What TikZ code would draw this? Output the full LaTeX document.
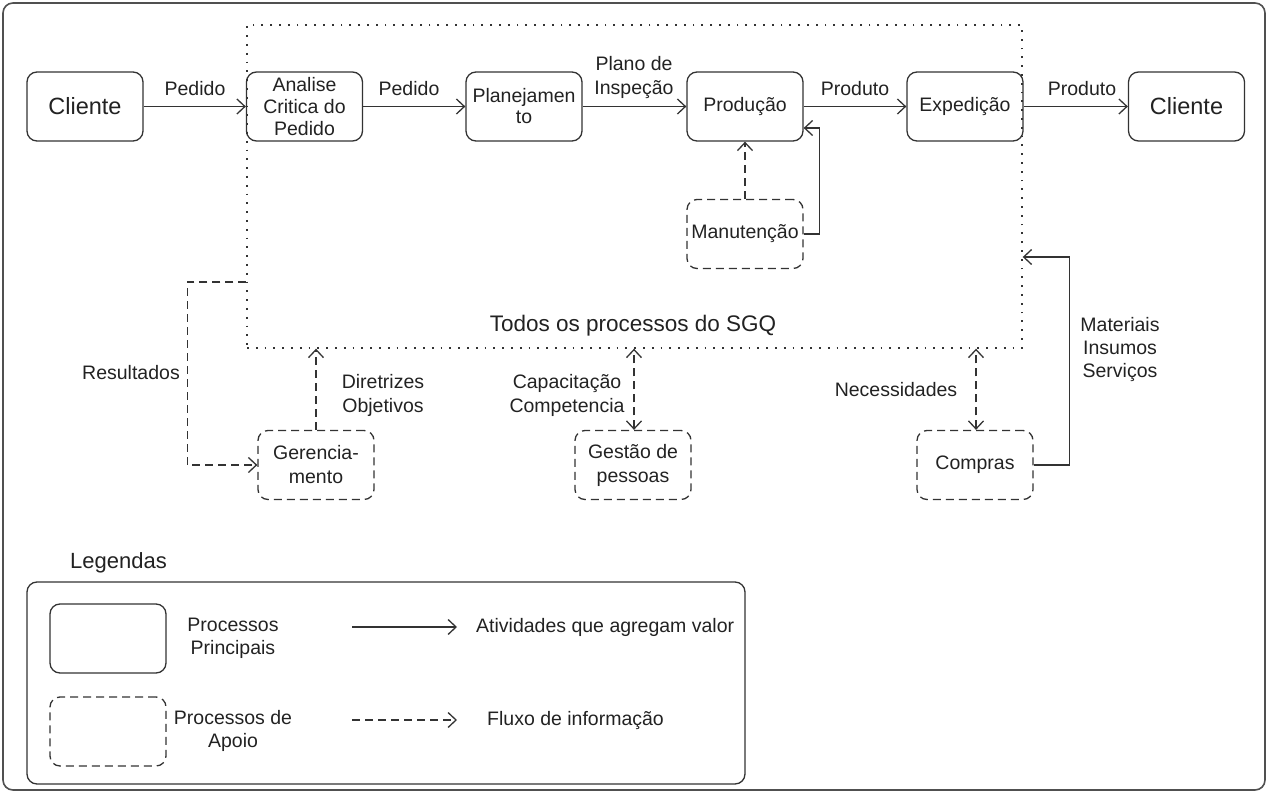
\documentclass[tikz,border=0pt]{standalone}
\usepackage{fontspec}
\setmainfont{Liberation Sans}
\usetikzlibrary{arrows.meta}
\definecolor{ln}{HTML}{333333}
\definecolor{tx}{HTML}{222222}
\definecolor{fr}{HTML}{505050}
\begin{document}
\begin{tikzpicture}[x=1pt,y=-1pt,
  >={Straight Barb[length=8pt,width=15pt]},
  every node/.style={text=tx, font=\fontsize{19.5}{23}\selectfont},
  mainbox/.style={draw=ln, line width=1.3pt, rounded corners=10pt, minimum width=116pt, minimum height=69pt, align=center, inner sep=0pt},
  supbox/.style={mainbox, dash pattern=on 8pt off 5pt},
  flow/.style={draw=ln, line width=1.3pt, ->},
  info/.style={flow, dash pattern=on 8pt off 5pt},
  biinfo/.style={info, <->},
  lbl/.style={align=center, inner sep=0pt},
  big/.style={font=\fontsize{23.5}{27}\selectfont}]
\useasboundingbox (0,0) rectangle (1268,794);
% outer frame
\draw[fr, line width=1.6pt, rounded corners=10pt] (3,3) rectangle (1265,790);
% SGQ dotted area
\node[draw=ln, line width=1.4pt, dash pattern=on 1.8pt off 7pt, minimum width=775pt, minimum height=323pt, inner sep=0pt] (sgq) at (634.5,186.5) {};
\node[big, font=\fontsize{22.5}{27}\selectfont] (todos) at (633,326) {Todos os processos do SGQ};
% main processes
\node[mainbox, big] (c1) at (85,106.5) {Cliente};
\node[mainbox, font=\fontsize{19.5}{22}\selectfont] (an) at (304.5,106.5) {Analise\\Critica do\\Pedido};
\node[mainbox, font=\fontsize{19.5}{21}\selectfont] (pl) at (524,106.5) {Planejamen\\to};
\node[mainbox] (pr) at (745,106.5) {Produção};
\node[mainbox] (ex) at (965,106.5) {Expedição};
\node[mainbox, big] (c2) at (1186.5,106.5) {Cliente};
% support processes
\node[supbox] (man) at (745,234) {Manutenção};
\node[supbox, font=\fontsize{19.5}{24}\selectfont] (ger) at (316,465) {Gerencia-\\mento};
\node[supbox, font=\fontsize{19.5}{24}\selectfont] (ges) at (633,465) {Gestão de\\pessoas};
\node[supbox] (com) at (975,465) {Compras};
% main flow
\draw[flow] (c1) -- (an);
\draw[flow] (an) -- (pl);
\draw[flow] (pl) -- (pr);
\draw[flow] (pr) -- (ex);
\draw[flow] (ex) -- (c2);
\node (lp1) at (195,89) {Pedido};
\node (lp2) at (409,89) {Pedido};
\node[lbl, font=\fontsize{19.5}{24}\selectfont] (lpi) at (634,77.5) {Plano de\\Inspeção};
\node (lpr1) at (855,89) {Produto};
\node (lpr2) at (1082,89) {Produto};
% maintenance
\draw[info] (man) -- (pr);
\draw[flow] (man.east) -- ++(16,0) |- ([yshift=-21.5pt]pr.east);
% results
\draw[info] ([yshift=-95.5pt]sgq.west) -- ++(-59,0) |- (ger.west);
\node (lres) at (131,373) {Resultados};
% management
\draw[info] (ger.north) -- (ger.north |- sgq.south);
\node[lbl, font=\fontsize{19.5}{24}\selectfont] (ldir) at (383,395) {Diretrizes\\Objetivos};
% people
\draw[biinfo] ([xshift=1pt]ges.north) -- ([xshift=1pt]ges.north |- sgq.south);
\node[lbl, font=\fontsize{19.5}{24}\selectfont] (lcap) at (567,395) {Capacitação\\Competencia};
% purchasing
\draw[biinfo] ([xshift=1pt]com.north) -- ([xshift=1pt]com.north |- sgq.south);
\node (lnec) at (896,390) {Necessidades};
\draw[flow] (com.east) -- ++(36,0) |- ([yshift=-70.5pt]sgq.east);
\node[lbl] (lmat) at (1120,349) {Materiais\\Insumos\\Serviços};
% legend
\node[anchor=west, inner sep=0pt, font=\fontsize{22}{26}\selectfont] (leg) at (70,563) {Legendas};
\draw[ln, line width=1.3pt, rounded corners=10pt] (27,582) rectangle (745,784);
\node[mainbox] (lg1) at (108,638.5) {};
\node[supbox] (lg2) at (108,731.5) {};
\node[lbl] (lt1) at (233,638) {Processos\\Principais};
\node[lbl] (lt2) at (233,731) {Processos de\\Apoio};
\coordinate (a1s) at (352,627);
\coordinate (a1e) at (457,627);
\draw[flow] (a1s) -- (a1e);
\node[anchor=west, inner sep=0pt] (lt3) at (476,627) {Atividades que agregam valor};
\coordinate (a2s) at (352,720);
\coordinate (a2e) at (457,720);
\draw[info] (a2s) -- (a2e);
\node[anchor=west, inner sep=0pt] (lt4) at (487,720) {Fluxo de informação};
\end{tikzpicture}
\end{document}
